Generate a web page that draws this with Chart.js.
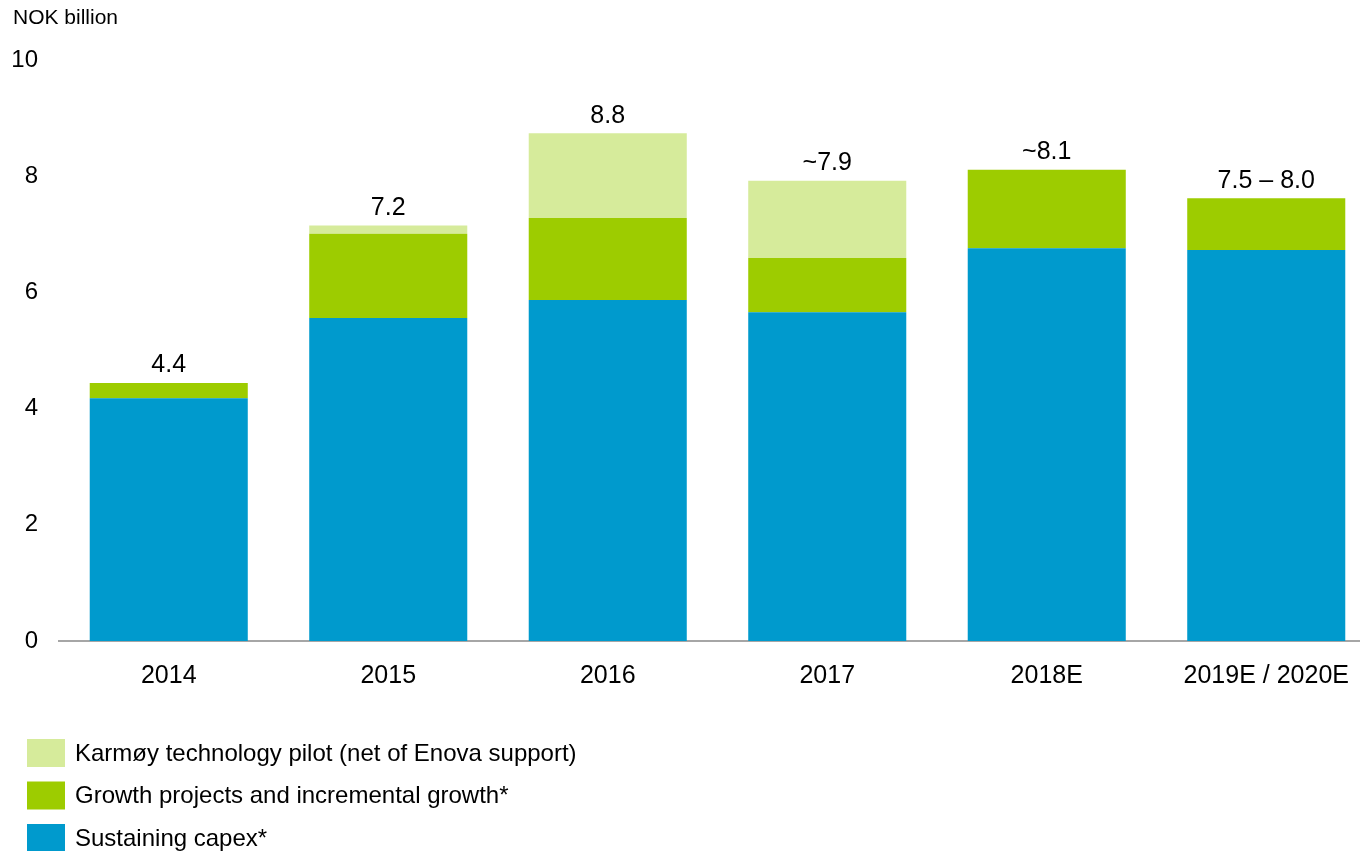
<!DOCTYPE html>
<html>
<head>
<meta charset="utf-8">
<script src="https://cdn.jsdelivr.net/npm/chart.js@4.4.1/dist/chart.umd.min.js"></script>
<style>
  html, body { margin: 0; padding: 0; background: #fff; overflow: hidden; }
  #wrap { position: relative; width: 1376px; height: 851px; }
</style>
</head>
<body>
<div id="wrap"><canvas id="chart" width="1376" height="851"></canvas></div>
<script>
const years = ['2014', '2015', '2016', '2017', '2018E', '2019E / 2020E'];
const sustaining = [4.18, 5.56, 5.87, 5.66, 6.76, 6.73];
const growth = [0.26, 1.45, 1.41, 0.93, 1.35, 0.89];
const karmoy = [0, 0.14, 1.46, 1.33, 0, 0];
const totalLabels = ['4.4', '7.2', '8.8', '~7.9', '~8.1', '7.5 – 8.0'];
const yTicks = [0, 2, 4, 6, 8, 10];

const font = 'Arial, "Liberation Sans", sans-serif';

// totals above the bars, unit label, and the stacked legend on the left
const extras = {
  id: 'extras',
  afterDatasetsDraw(chart) {
    const ctx = chart.ctx;
    const top = chart.getDatasetMeta(chart.data.datasets.length - 1);
    ctx.save();
    ctx.fillStyle = '#000';
    ctx.font = '25px ' + font;
    ctx.textAlign = 'center';
    ctx.textBaseline = 'bottom';
    years.forEach((y, i) => {
      let minY = Infinity;
      chart.data.datasets.forEach((ds, d) => {
        const el = chart.getDatasetMeta(d).data[i];
        if (ds.data[i] > 0) minY = Math.min(minY, el.y);
      });
      ctx.fillText(totalLabels[i], top.data[i].x, minY - 5);
    });

    ctx.textAlign = 'left';
    ctx.textBaseline = 'middle';
    ctx.font = '21px ' + font;
    ctx.fillText('NOK billion', 13, 18);

    ctx.font = '24px ' + font;
    const items = chart.data.datasets.slice().reverse();
    items.forEach((ds, k) => {
      const cy = 753 + k * 42.5;
      ctx.fillStyle = ds.backgroundColor;
      ctx.fillRect(27, cy - 14, 38, 28);
      ctx.fillStyle = '#000';
      ctx.fillText(ds.label, 75, cy + 1);
    });
    ctx.restore();
  }
};

new Chart(document.getElementById('chart'), {
  type: 'bar',
  data: {
    labels: years,
    datasets: [
      { label: 'Sustaining capex*', data: sustaining, backgroundColor: '#009ACD' },
      { label: 'Growth projects and incremental growth*', data: growth, backgroundColor: '#9DCC00' },
      { label: 'Karmøy technology pilot (net of Enova support)', data: karmoy, backgroundColor: '#D6EB9B' }
    ]
  },
  options: {
    responsive: false,
    animation: false,
    devicePixelRatio: 1,
    layout: { padding: { top: 60, right: 0, bottom: 0, left: 0 } },
    datasets: { bar: { barPercentage: 0.72, categoryPercentage: 1, borderWidth: 0 } },
    plugins: { legend: { display: false }, tooltip: { enabled: false } },
    scales: {
      x: {
        stacked: true,
        grid: { display: false, drawTicks: false },
        border: { display: true, color: '#A6A6A6', width: 2 },
        ticks: { color: '#000', font: { size: 25, family: font }, padding: 20, maxRotation: 0 },
        afterFit(s) { s.height = 851 - 641; }
      },
      y: {
        stacked: true,
        min: 0,
        max: 10,
        afterBuildTicks(s) { s.ticks = yTicks.map(v => ({ value: v })); },
        grid: { display: false, drawTicks: false },
        border: { display: false },
        ticks: { color: '#000', font: { size: 24, family: font }, padding: 21 },
        afterFit(s) { s.width = 59; }
      }
    }
  },
  plugins: [extras]
});
</script>
</body>
</html>
